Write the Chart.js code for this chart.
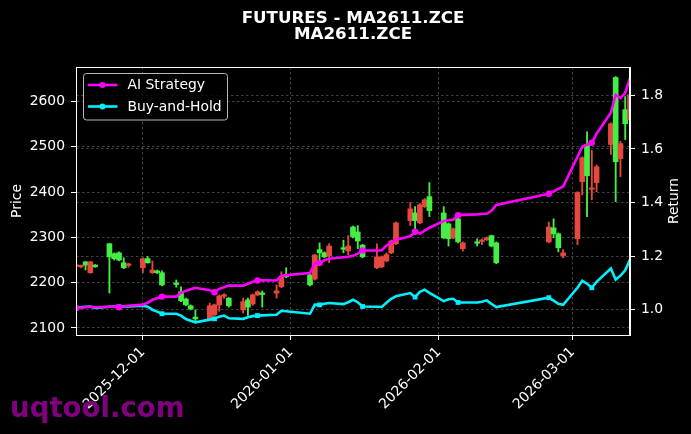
<!DOCTYPE html>
<html>
<head>
<meta charset="utf-8">
<script src="https://cdn.jsdelivr.net/npm/chart.js@4.4.1/dist/chart.umd.min.js"></script>
<style>
  html, body { margin: 0; padding: 0; background: #000; }
  #chart { display: block; }
</style>
</head>
<body>
<canvas id="chart" width="691" height="434"></canvas>
<script>
// trading days
const dates = [
  '2025-11-17','2025-11-18','2025-11-19','2025-11-20','2025-11-21',
  '2025-11-24','2025-11-25','2025-11-26','2025-11-27','2025-11-28',
  '2025-12-01','2025-12-02','2025-12-03','2025-12-04','2025-12-05',
  '2025-12-08','2025-12-09','2025-12-10','2025-12-11','2025-12-12',
  '2025-12-15','2025-12-16','2025-12-17','2025-12-18','2025-12-19',
  '2025-12-22','2025-12-23','2025-12-24','2025-12-25','2025-12-26',
  '2025-12-29','2025-12-30','2025-12-31',
  '2026-01-05','2026-01-06','2026-01-07','2026-01-08','2026-01-09',
  '2026-01-12','2026-01-13','2026-01-14','2026-01-15','2026-01-16',
  '2026-01-19','2026-01-20','2026-01-21','2026-01-22','2026-01-23',
  '2026-01-26','2026-01-27','2026-01-28','2026-01-29','2026-01-30',
  '2026-02-02','2026-02-03','2026-02-04','2026-02-05','2026-02-06',
  '2026-02-09','2026-02-10','2026-02-11','2026-02-12','2026-02-13',
  '2026-02-24','2026-02-25','2026-02-26','2026-02-27',
  '2026-03-02','2026-03-03','2026-03-04','2026-03-05','2026-03-06',
  '2026-03-09','2026-03-10','2026-03-11','2026-03-12','2026-03-13'
];

const opens = [
  2238, 2237, 2239, 2246, 2235,  2257, 2253, 2250, 2233, 2240,
  2253, 2244, 2228, 2222, 2195,  2196, 2160, 2151, 2142, 2120,
  2149, 2151, 2171, 2172, 2149,  2158, 2146, 2173, 2180, 2174,
  2182, 2213, 2213,
  2195, 2261, 2266, 2257, 2281,  2274, 2281, 2301, 2292, 2257,
  2257, 2257, 2262, 2292, 2332,  2363, 2337, 2372, 2383, 2359,
  2299, 2297, 2319, 2290, 2288,  2287, 2293, 2299, 2281, 2244,
  2323, 2308, 2277, 2266,
  2399, 2476, 2436, 2408, 2456,  2551, 2467, 2507, 2551, 2615
];
const highs = [
  2240, 2239, 2247, 2247, 2240,  2287, 2266, 2268, 2255, 2243,
  2255, 2258, 2248, 2228, 2226,  2206, 2191, 2166, 2151, 2140,
  2155, 2153, 2173, 2176, 2167,  2166, 2166, 2175, 2182, 2182,
  2195, 2224, 2233,
  2219, 2263, 2288, 2268, 2286,  2294, 2304, 2325, 2326, 2285,
  2286, 2259, 2266, 2294, 2334,  2377, 2368, 2375, 2386, 2421,
  2368, 2332, 2321, 2346, 2290,  2297, 2297, 2301, 2305, 2290,
  2334, 2341, 2310, 2273,
  2401, 2478, 2533, 2492, 2460,  2553, 2655, 2512, 2611, 2625
];
const lows = [
  2234, 2233, 2228, 2221, 2234,  2177, 2250, 2248, 2231, 2234,
  2222, 2243, 2220, 2220, 2193,  2190, 2158, 2149, 2140, 2113,
  2118, 2127, 2137, 2165, 2146,  2133, 2128, 2150, 2171, 2146,
  2166, 2189, 2211,
  2193, 2206, 2246, 2255, 2244,  2266, 2262, 2299, 2275, 2255,
  2231, 2233, 2246, 2264, 2284,  2326, 2319, 2330, 2366, 2346,
  2297, 2281, 2297, 2288, 2270,  2281, 2284, 2293, 2279, 2242,
  2288, 2299, 2268, 2255,
  2284, 2394, 2346, 2383, 2401,  2483, 2379, 2434, 2516, 2555
];
const closes = [
  2236, 2235, 2246, 2222, 2239,  2286, 2264, 2266, 2244, 2238,
  2233, 2253, 2222, 2226, 2222,  2198, 2180, 2164, 2149, 2124,
  2120, 2129, 2151, 2170, 2166,  2140, 2162, 2153, 2173, 2176,
  2177, 2191, 2217,
  2217, 2208, 2273, 2266, 2259,  2276, 2270, 2323, 2312, 2283,
  2233, 2235, 2248, 2266, 2286,  2337, 2354, 2332, 2368, 2390,
  2354, 2330, 2299, 2341, 2275,  2289, 2291, 2295, 2304, 2288,
  2290, 2321, 2308, 2259,
  2297, 2423, 2505, 2406, 2421,  2505, 2653, 2474, 2582, 2560
];

// cumulative returns
const aiStrategy = [
  1.006, 1.007, 1.009, 1.011, 1.009,  1.011, 1.012, 1.009, 1.013, 1.015,
  1.019, 1.026, 1.037, 1.043, 1.049,  1.049, 1.063, 1.071, 1.076, 1.082,
  1.073, 1.065, 1.078, 1.084, 1.090,  1.090, 1.097, 1.104, 1.109, 1.110,
  1.109, 1.127, 1.129,
  1.137, 1.174, 1.174, 1.185, 1.190,  1.196, 1.198, 1.201, 1.209, 1.221,
  1.221, 1.222, 1.239, 1.251, 1.261,  1.274, 1.291, 1.284, 1.295, 1.306,
  1.331, 1.334, 1.336, 1.353, 1.354,  1.356, 1.358, 1.358, 1.369, 1.391,
  1.433, 1.442, 1.451, 1.460,
  1.571, 1.608, 1.616, 1.623, 1.657,  1.735, 1.802, 1.790, 1.809, 1.865
];
const buyHold = [
  1.006, 1.009, 1.011, 1.012, 1.007,  1.011, 1.012, 1.011, 1.012, 1.012,
  1.015, 1.011, 1.000, 0.993, 0.985,  0.985, 0.978, 0.965, 0.959, 0.953,
  0.963, 0.966, 0.974, 0.978, 0.968,  0.966, 0.972, 0.976, 0.978, 0.979,
  0.981, 0.996, 0.994,
  0.985, 1.019, 1.018, 1.022, 1.025,  1.021, 1.028, 1.037, 1.028, 1.012,
  1.011, 1.010, 1.026, 1.041, 1.050,  1.062, 1.047, 1.067, 1.075, 1.063,
  1.032, 1.039, 1.041, 1.027, 1.027,  1.027, 1.030, 1.035, 1.022, 1.010,
  1.045, 1.034, 1.022, 1.018,
  1.082, 1.108, 1.097, 1.082, 1.104,  1.154, 1.112, 1.127, 1.147, 1.187
];

const monthTicks = ['2025-12-01', '2026-01-01', '2026-02-01', '2026-03-01'];
const priceTicks = [2100, 2200, 2300, 2400, 2500, 2600];
const returnTicks = [1.0, 1.2, 1.4, 1.6, 1.8];

const UP = '#44ee44';
const DOWN = '#e5483f';
const FONT = '"DejaVu Sans", sans-serif';
const FS = 13.9;

// dates -> day number from first trading day
const t0 = Date.parse(dates[0]);
function dayOf(s) {
  return (Date.parse(s) - t0) / 86400000;
}
const xs = dates.map(dayOf);
const tickDays = monthTicks.map(dayOf);
const candleColors = closes.map((c, i) => c >= opens[i] ? UP : DOWN);

// frame, titles, legend, watermark
const decorations = {
  id: 'decorations',
  afterDraw(chart) {
    const ctx = chart.ctx;
    const a = chart.chartArea;
    ctx.save();

    ctx.strokeStyle = '#ffffff';
    ctx.lineWidth = 1;
    ctx.strokeRect(a.left + 0.5, a.top + 0.5, a.right - a.left - 1, a.bottom - a.top);

    ctx.fillStyle = '#ffffff';
    ctx.font = 'bold 16.7px ' + FONT;
    ctx.textAlign = 'center';
    ctx.textBaseline = 'alphabetic';
    const cx = (a.left + a.right) / 2;
    ctx.fillText('FUTURES - MA2611.ZCE', cx, 22.7);
    ctx.fillText('MA2611.ZCE', cx, 39.3);

    // right axis label, reads bottom to top
    ctx.font = FS + 'px ' + FONT;
    ctx.textBaseline = 'middle';
    ctx.translate(674, (a.top + a.bottom) / 2);
    ctx.rotate(-Math.PI / 2);
    ctx.fillText('Return', 0, 0);
    ctx.setTransform(1, 0, 0, 1, 0, 0);

    // legend
    const bx = a.left + 7.5, by = a.top + 6.5, bw = 144, bh = 46.5;
    ctx.beginPath();
    ctx.roundRect(bx, by, bw, bh, 3);
    ctx.fillStyle = 'rgba(0,0,0,0.8)';
    ctx.fill();
    ctx.strokeStyle = 'rgba(204,204,204,0.9)';
    ctx.stroke();
    const lines = chart.data.datasets.filter(d => d.type === 'line');
    lines.forEach((ds, i) => {
      const y = by + 11.5 + i * 21.5;
      ctx.strokeStyle = ds.borderColor;
      ctx.lineWidth = ds.borderWidth;
      ctx.beginPath();
      ctx.moveTo(bx + 4.5, y);
      ctx.lineTo(bx + 34, y);
      ctx.stroke();
      ctx.fillStyle = ds.borderColor;
      ctx.beginPath();
      ctx.arc(bx + 19, y, 3, 0, Math.PI * 2);
      ctx.fill();
      ctx.fillStyle = '#ffffff';
      ctx.font = FS + 'px ' + FONT;
      ctx.textAlign = 'left';
      ctx.textBaseline = 'middle';
      ctx.fillText(ds.label, bx + 44, y + 0.5);
    });

    // watermark
    ctx.fillStyle = '#800080';
    ctx.font = 'bold 27.6px ' + FONT;
    ctx.textAlign = 'left';
    ctx.textBaseline = 'alphabetic';
    ctx.fillText('uqtool.com', 10, 417);
    ctx.restore();
  }
};

const gridColor = 'rgba(110,110,110,0.75)';

new Chart(document.getElementById('chart'), {
  type: 'bar',
  data: {
    datasets: [
      {
        type: 'line',
        label: 'AI Strategy',
        data: xs.map((x, i) => ({ x: x, y: aiStrategy[i] })),
        yAxisID: 'y1',
        borderColor: '#ff00ff',
        backgroundColor: '#ff00ff',
        borderWidth: 2.6,
        tension: 0,
        pointStyle: 'circle',
        pointRadius: c => c.dataIndex % 7 === 0 ? 3.2 : 0,
        pointBorderWidth: 0,
        order: 0
      },
      {
        type: 'line',
        label: 'Buy-and-Hold',
        data: xs.map((x, i) => ({ x: x, y: buyHold[i] })),
        yAxisID: 'y1',
        borderColor: '#00f0ff',
        backgroundColor: '#00f0ff',
        borderWidth: 2.6,
        tension: 0,
        pointStyle: 'rect',
        pointRadius: c => c.dataIndex % 7 === 0 ? 3.4 : 0,
        pointBorderWidth: 0,
        order: 1
      },
      {
        label: 'body',
        data: xs.map((x, i) => ({ x: x, y: [opens[i], closes[i]] })),
        yAxisID: 'y',
        backgroundColor: candleColors,
        borderWidth: 0,
        barThickness: 5,
        minBarLength: 1.5,
        grouped: false,
        order: 2
      },
      {
        label: 'wick',
        data: xs.map((x, i) => ({ x: x, y: [lows[i], highs[i]] })),
        yAxisID: 'y',
        backgroundColor: candleColors,
        borderWidth: 0,
        barThickness: 1.2,
        grouped: false,
        order: 3
      }
    ]
  },
  options: {
    responsive: false,
    animation: false,
    layout: { padding: { top: 67, left: 0, right: 0, bottom: 0 } },
    plugins: {
      legend: { display: false },
      tooltip: { enabled: false },
      title: { display: false }
    },
    scales: {
      x: {
        type: 'linear',
        offset: false,
        min: 0,
        max: xs[xs.length - 1],
        afterBuildTicks: s => { s.ticks = tickDays.map(v => ({ value: v })); },
        afterFit: s => { s.height = 99; },
        ticks: {
          color: '#ffffff',
          font: { family: FONT, size: FS },
          minRotation: 45,
          maxRotation: 45,
          padding: 4,
          callback: v => monthTicks[tickDays.indexOf(v)] || ''
        },
        grid: {
          offset: false,
          color: gridColor,
          lineWidth: 0.8,
          tickColor: '#ffffff',
          tickLength: 5,
          tickWidth: 1,
          tickBorderDash: []
        },
        border: { color: '#ffffff', width: 1, dash: [2.5, 2.5] }
      },
      y: {
        position: 'left',
        min: 2084.5,
        max: 2676.2,
        afterBuildTicks: s => { s.ticks = priceTicks.map(v => ({ value: v })); },
        afterFit: s => { s.width = 76; },
        ticks: {
          color: '#ffffff',
          font: { family: FONT, size: FS },
          padding: 6,
          callback: v => String(v)
        },
        title: {
          display: true,
          text: 'Price',
          color: '#ffffff',
          font: { family: FONT, size: FS },
          padding: { top: 9, bottom: 0 }
        },
        grid: {
          color: gridColor,
          lineWidth: 0.8,
          tickColor: '#ffffff',
          tickLength: 5,
          tickWidth: 1,
          tickBorderDash: []
        },
        border: { color: '#ffffff', width: 1, dash: [2.5, 2.5] }
      },
      y1: {
        position: 'right',
        min: 0.9056,
        max: 1.906,
        afterBuildTicks: s => { s.ticks = returnTicks.map(v => ({ value: v })); },
        afterFit: s => { s.width = 61; },
        ticks: {
          color: '#ffffff',
          font: { family: FONT, size: FS },
          padding: 6,
          callback: v => Number(v).toFixed(1)
        },
        grid: {
          color: gridColor,
          lineWidth: 0.8,
          tickColor: '#ffffff',
          tickLength: 5,
          tickWidth: 1,
          tickBorderDash: []
        },
        border: { color: '#ffffff', width: 1, dash: [2.5, 2.5] }
      }
    }
  },
  plugins: [decorations]
});
</script>
</body>
</html>
